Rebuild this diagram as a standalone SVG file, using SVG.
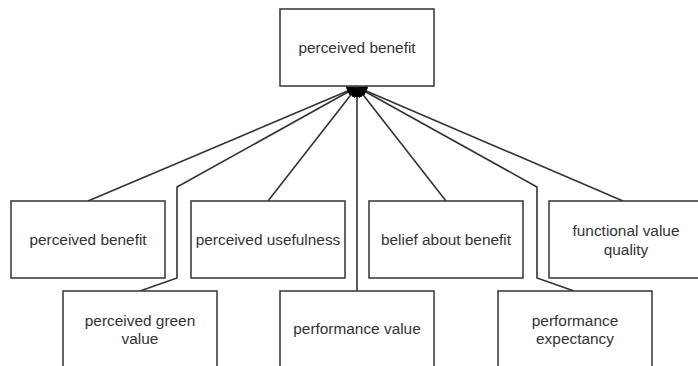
<svg xmlns="http://www.w3.org/2000/svg" width="698" height="366" viewBox="0 0 698 366">
<defs>
<style>
.box{fill:#fff;stroke:#333;stroke-width:1.5}
.lbl{font-family:"Liberation Sans",Arial,sans-serif;font-size:15.4px;fill:#333;text-anchor:middle;dominant-baseline:central}
.edge{fill:none;stroke:#333;stroke-width:1.6}
</style>
<marker id="arr" markerUnits="userSpaceOnUse" viewBox="0 0 10 10" refX="10" refY="5" markerWidth="12" markerHeight="10" orient="auto">
<path d="M0,0 L10,5 L0,10 z" fill="#000"/>
</marker>
</defs>
<rect width="698" height="366" fill="#fff"/>
<g id="connectors">
<path class="edge" marker-end="url(#arr)" d="M88,201 L357,87"/>
<path class="edge" marker-end="url(#arr)" d="M140,291 L177,278 L177,187 L357,87"/>
<path class="edge" marker-end="url(#arr)" d="M268,201 L357,87"/>
<path class="edge" marker-end="url(#arr)" d="M357,291 L357,87"/>
<path class="edge" marker-end="url(#arr)" d="M446,201 L357,87"/>
<path class="edge" marker-end="url(#arr)" d="M574,291 L537,278 L537,187 L357,87"/>
<path class="edge" marker-end="url(#arr)" d="M623,201 L357,87"/>
</g>
<g id="n-top">
<rect class="box" x="280" y="9" width="154" height="77"/>
<text class="lbl" x="357" y="47.5">perceived benefit</text>
</g>
<g id="n-pb">
<rect class="box" x="11" y="201" width="154" height="77"/>
<text class="lbl" x="88" y="239.5">perceived benefit</text>
</g>
<g id="n-pu">
<rect class="box" x="191" y="201" width="154" height="77"/>
<text class="lbl" x="268" y="239.5">perceived usefulness</text>
</g>
<g id="n-bab">
<rect class="box" x="369" y="201" width="154" height="77"/>
<text class="lbl" x="446" y="239.5">belief about benefit</text>
</g>
<g id="n-fvq">
<rect class="box" x="549" y="201" width="154" height="77"/>
<text class="lbl" x="626" y="230.5">functional value</text>
<text class="lbl" x="626" y="249">quality</text>
</g>
<g id="n-pgv">
<rect class="box" x="63" y="291" width="154" height="77"/>
<text class="lbl" x="140" y="320">perceived green</text>
<text class="lbl" x="140" y="338.5">value</text>
</g>
<g id="n-pv">
<rect class="box" x="280" y="291" width="154" height="77"/>
<text class="lbl" x="357" y="328">performance value</text>
</g>
<g id="n-pe">
<rect class="box" x="498" y="291" width="154" height="77"/>
<text class="lbl" x="575" y="320">performance</text>
<text class="lbl" x="575" y="338.5">expectancy</text>
</g>
</svg>
